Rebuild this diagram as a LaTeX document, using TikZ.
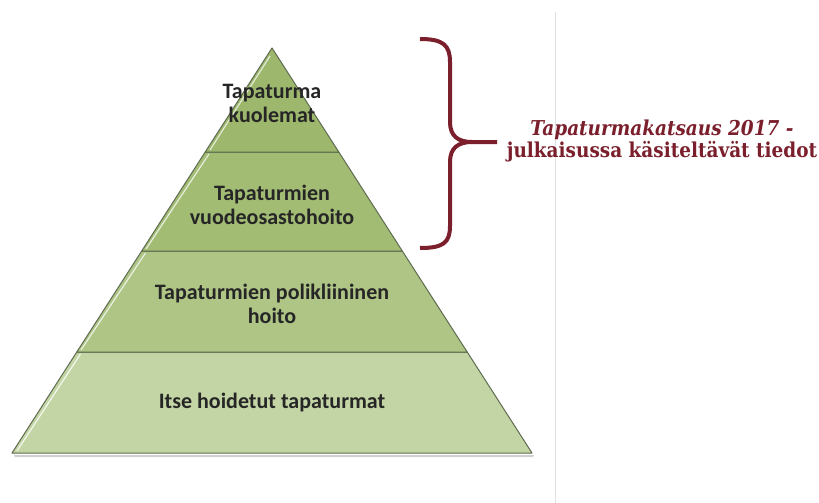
\documentclass[tikz,border=0pt]{standalone}
\usepackage{fontspec}
\setmainfont{DejaVu Serif}
\newfontfamily\capfont[FakeStretch=0.9]{DejaVu Serif}
\newfontfamily\labelfont{Carlito}
\definecolor{bandA}{HTML}{9DB86D}
\definecolor{bandB}{HTML}{A2BC74}
\definecolor{bandC}{HTML}{AEC585}
\definecolor{bandD}{HTML}{C3D5A4}
\definecolor{edgec}{HTML}{5E6B50}
\definecolor{wine}{HTML}{7A1F2B}
\begin{document}
\begin{tikzpicture}[x=1pt,y=-1pt,
  band/.style={draw=edgec,line width=1pt,line join=round},
  lbl/.style={font=\labelfont\bfseries\fontsize{22}{24}\selectfont,align=center,text=black!85},
  captext/.style={font=\capfont\bfseries\fontsize{20.5}{22}\selectfont,text=wine,align=center}]
\useasboundingbox (0,0) rectangle (819,503);
\fill[white] (0,0) rectangle (819,503);
\draw[black!12,line width=0.8pt] (555,12) -- (555,503);
% pyramid bands
\fill[black!18] (14,455) -- (534,455) -- (533,457) -- (15,457) -- cycle;
\draw[band,fill=bandD] (76.8,352) -- (467.2,352) -- (532,453) -- (12,453) -- cycle;
\draw[band,fill=bandC] (141.7,251) -- (402.3,251) -- (467.2,352) -- (76.8,352) -- cycle;
\draw[band,fill=bandB] (205.2,152) -- (338.8,152) -- (402.3,251) -- (141.7,251) -- cycle;
\draw[band,fill=bandA] (272,48) -- (338.8,152) -- (205.2,152) -- cycle;
% subtle left-edge highlights
\draw[white!80!bandD,line width=1.2pt] (80.5,354) -- (17,451);
\draw[white!75!bandC,line width=1.2pt] (145.5,253) -- (81,350);
\draw[white!75!bandB,line width=1.2pt] (209,154) -- (146,249);
\draw[white!70!bandA,line width=1.2pt] (270,56) -- (210,150);
% labels
\node[lbl] (t1) at (272,103) {Tapaturma\\kuolemat};
\node[lbl] (t2) at (272,205) {Tapaturmien\\vuodeosastohoito};
\node[lbl] (t3) at (272,304) {Tapaturmien polikliininen\\hoito};
\node[lbl] (t4) at (272,403) {Itse hoidetut tapaturmat};
% brace
\draw[wine,line width=4pt,line cap=butt]
  (420,39) .. controls (443,39) and (450,45) .. (450,62)
  -- (450,122) .. controls (450,136) and (458,142) .. (472,142)
  -- (497,142);
\draw[wine,line width=4pt,line cap=butt]
  (472,142) .. controls (458,142) and (450,148) .. (450,162)
  -- (450,226) .. controls (450,243) and (443,248) .. (420,248);
% caption
\node[captext] (c) at (662,141) {\textit{Tapaturmakatsaus 2017 -}\\julkaisussa käsiteltävät tiedot};
\end{tikzpicture}
\end{document}
